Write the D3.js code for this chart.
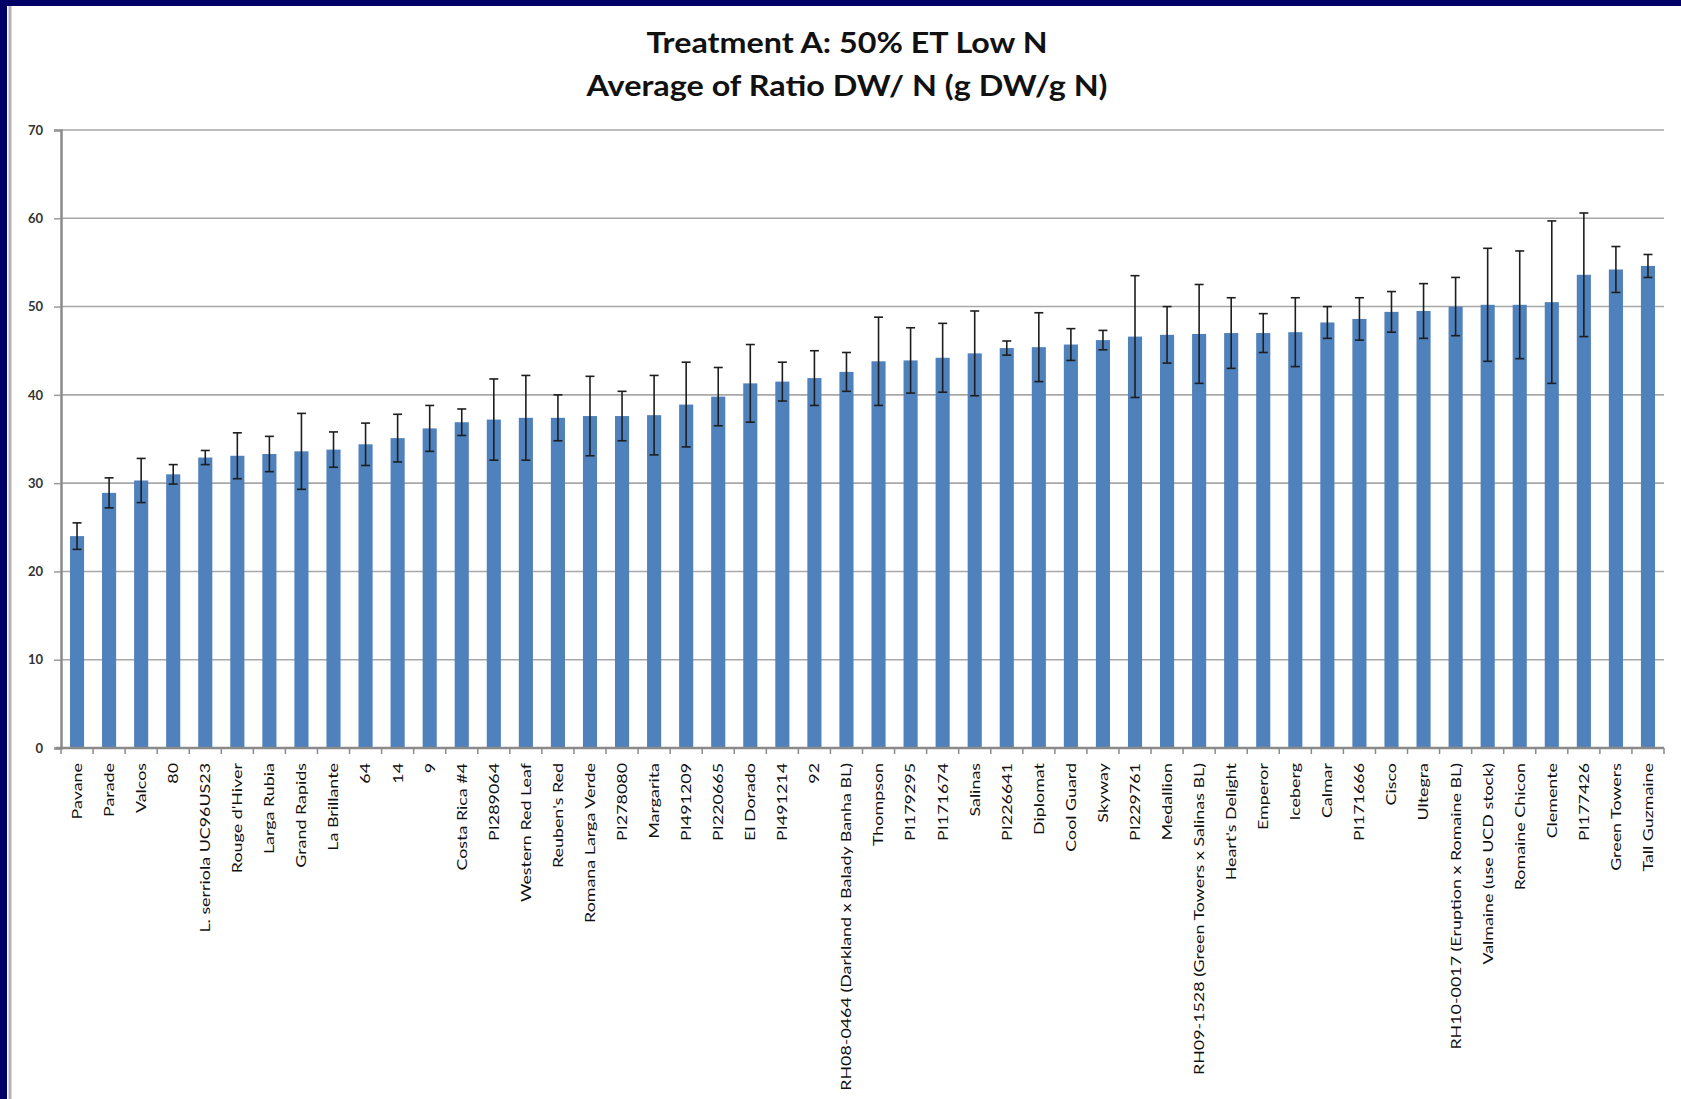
<!DOCTYPE html>
<html><head><meta charset="utf-8">
<script src="https://cdn.jsdelivr.net/npm/d3@7"></script>
<style>html,body{margin:0;padding:0;background:#fff;}svg{display:block;}</style>
</head><body>
<script>
const categories = ["Pavane","Parade","Valcos","80","L. serriola UC96US23","Rouge d'Hiver","Larga Rubia","Grand Rapids","La Brillante","64","14","9","Costa Rica #4","PI289064","Western Red Leaf","Reuben's Red","Romana Larga Verde","PI278080","Margarita","PI491209","PI220665","El Dorado","PI491214","92","RH08-0464 (Darkland x Balady Banha BL)","Thompson","PI179295","PI171674","Salinas","PI226641","Diplomat","Cool Guard","Skyway","PI229761","Medallion","RH09-1528 (Green Towers x Salinas BL)","Heart's Delight","Emperor","Iceberg","Calmar","PI171666","Cisco","Ultegra","RH10-0017 (Eruption x Romaine BL)","Valmaine (use UCD stock)","Romaine Chicon","Clemente","PI177426","Green Towers","Tall Guzmaine"];
const values = [24.0,28.9,30.3,31.0,32.9,33.1,33.3,33.6,33.8,34.4,35.1,36.2,36.9,37.2,37.4,37.4,37.6,37.6,37.7,38.9,39.8,41.3,41.5,41.9,42.6,43.8,43.9,44.2,44.7,45.3,45.4,45.7,46.2,46.6,46.8,46.9,47.0,47.0,47.1,48.2,48.6,49.4,49.5,50.0,50.2,50.2,50.5,53.6,54.2,54.6];
const errors = [1.5,1.7,2.5,1.1,0.8,2.6,2.0,4.3,2.0,2.4,2.7,2.6,1.5,4.6,4.8,2.6,4.5,2.8,4.5,4.8,3.3,4.4,2.2,3.1,2.2,5.0,3.7,3.9,4.8,0.8,3.9,1.8,1.1,6.9,3.2,5.6,4.0,2.2,3.9,1.8,2.4,2.3,3.1,3.3,6.4,6.1,9.2,7.0,2.6,1.3];
const yTicks = [0,10,20,30,40,50,60,70];
const titleLines = ["Treatment A: 50% ET Low N","Average of Ratio DW/ N (g DW/g N)"];

(function(){
const W = 1681, H = 1099;
const svg = d3.select("body").append("svg").attr("width", W).attr("height", H);
svg.append("rect").attr("width", W).attr("height", H).attr("fill", "#fff");
// frame
svg.append("rect").attr("x",0).attr("y",0).attr("width",W).attr("height",6).attr("fill","#000066");
svg.append("rect").attr("x",0).attr("y",0).attr("width",7).attr("height",H).attr("fill","#000066");
svg.append("line").attr("x1",10).attr("x2",10).attr("y1",6).attr("y2",H).attr("stroke","#b4b4b4").attr("stroke-width",3);

const pLeft = 61, pRight = 1664, pTop = 130, pBottom = 748;
const x = d3.scaleBand().domain(categories).range([pLeft, pRight]).padding(0);
const y = d3.scaleLinear().domain([0, 70]).range([pBottom, pTop]);

// gridlines
svg.append("g").selectAll("line").data(yTicks.filter(t => t > 0)).join("line")
  .attr("x1", pLeft).attr("x2", pRight).attr("y1", d => y(d)).attr("y2", d => y(d))
  .attr("stroke", "#a8a8a8").attr("stroke-width", 1.6);

// bars
const bw = x.bandwidth();
const barW = bw * 0.44;
svg.append("g").selectAll("rect").data(categories).join("rect")
  .attr("x", (d) => x(d) + (bw - barW) / 2)
  .attr("y", (d, i) => y(values[i]))
  .attr("width", barW)
  .attr("height", (d, i) => y(0) - y(values[i]))
  .attr("fill", "#4f81bd");

// error bars
const eg = svg.append("g").attr("stroke", "#1e1e1e").attr("stroke-width", 1.6);
categories.forEach((c, i) => {
  const cx = x(c) + bw / 2;
  const y1 = y(values[i] + errors[i]), y2 = y(values[i] - errors[i]);
  eg.append("line").attr("x1", cx).attr("x2", cx).attr("y1", y1).attr("y2", y2);
  eg.append("line").attr("x1", cx - 4.5).attr("x2", cx + 4.5).attr("y1", y1).attr("y2", y1);
  eg.append("line").attr("x1", cx - 4.5).attr("x2", cx + 4.5).attr("y1", y2).attr("y2", y2);
});

// y axis
const yAxis = svg.append("g").attr("transform", `translate(${pLeft},0)`)
  .call(d3.axisLeft(y).tickValues(yTicks).tickSize(7).tickPadding(11));
yAxis.select(".domain").attr("stroke", "#8a8a8a").attr("stroke-width", 2.5);
yAxis.selectAll(".tick line").attr("stroke", "#9a9a9a").attr("stroke-width", 1.5);
yAxis.selectAll(".tick text").attr("font-family", "Lato, 'Open Sans', sans-serif")
  .attr("font-size", 13).attr("font-weight", "bold").attr("fill", "#333");

// x axis
const xg = svg.append("g").attr("transform", `translate(0,${pBottom})`);
xg.append("line").attr("x1", pLeft - 5).attr("x2", pRight).attr("stroke", "#8a8a8a").attr("stroke-width", 2.5);
xg.selectAll("line.tk").data(categories.concat(["__end"])).join("line").attr("class","tk")
  .attr("x1", (d, i) => i < categories.length ? x(d) : pRight)
  .attr("x2", (d, i) => i < categories.length ? x(d) : pRight)
  .attr("y1", 0).attr("y2", 6).attr("stroke", "#8a8a8a").attr("stroke-width", 1.5);

const labels = xg.selectAll("text").data(categories).join("text")
  .attr("font-family", "Lato, 'Open Sans', sans-serif").attr("font-size", 14).attr("fill", "#111")
  .attr("text-anchor", "end").attr("dy", "0.35em")
  .text(d => d);
const ref = labels.filter(d => d === "Romana Larga Verde").node().getComputedTextLength();
const sx = 160 / ref;
labels.attr("transform", d => `translate(${x(d) + bw / 2},15) rotate(-90) scale(${sx},1)`);

// title
const tw = [401, 521];
titleLines.forEach((t, i) => {
  svg.append("text").attr("x", 847).attr("y", i === 0 ? 53 : 96)
    .attr("text-anchor", "middle").attr("font-family", "Lato, 'Open Sans', sans-serif")
    .attr("font-weight", "bold").attr("font-size", 28).attr("fill", "#111")
    .attr("textLength", tw[i]).attr("lengthAdjust", "spacingAndGlyphs")
    .text(t);
});
})();
</script>
</body></html>
